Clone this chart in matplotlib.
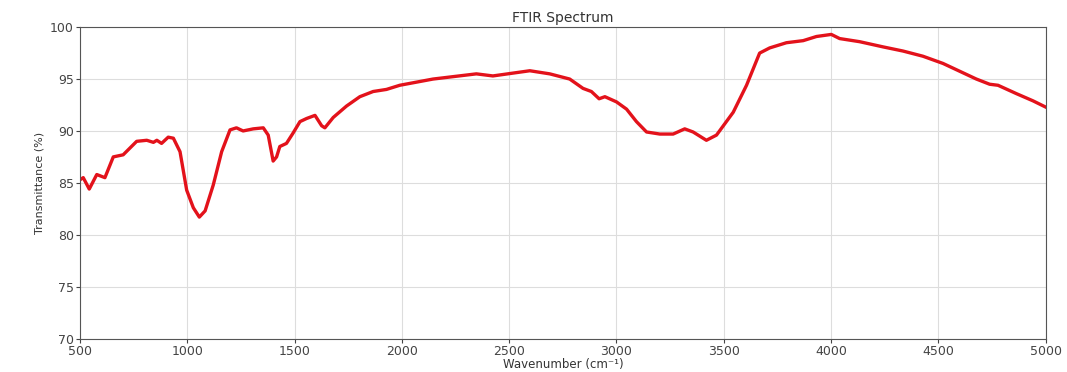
import matplotlib.pyplot as plt

# wavenumber (cm-1) and transmittance (%)
wavenumber = [500, 515, 543, 578, 616, 655, 701, 764, 811, 842, 858, 880, 911, 935,
              966, 997, 1028, 1056, 1083, 1121, 1160, 1199, 1229, 1260, 1307, 1354,
              1377, 1400, 1416, 1431, 1462, 1493, 1525, 1556, 1595, 1626, 1641, 1680,
              1742, 1804, 1866, 1928, 1990, 2145, 2347, 2424, 2596, 2689, 2782, 2844,
              2883, 2919, 2946, 3000, 3047, 3093, 3140, 3202, 3264, 3318, 3357, 3419,
              3466, 3544, 3606, 3667, 3714, 3792, 3870, 3932, 4001, 4040, 4133, 4242,
              4335, 4428, 4522, 4584, 4677, 4739, 4778, 4863, 4941, 5000]
transmittance = [85.3, 85.5, 84.4, 85.8, 85.5, 87.5, 87.7, 89.0, 89.1, 88.9, 89.1, 88.8,
                 89.4, 89.3, 88.0, 84.3, 82.6, 81.7, 82.3, 84.8, 88.0, 90.1, 90.3, 90.0,
                 90.2, 90.3, 89.6, 87.1, 87.5, 88.5, 88.8, 89.8, 90.9, 91.2, 91.5, 90.5,
                 90.3, 91.3, 92.4, 93.3, 93.8, 94.0, 94.4, 95.0, 95.5, 95.3, 95.8, 95.5,
                 95.0, 94.1, 93.8, 93.1, 93.3, 92.8, 92.1, 90.9, 89.9, 89.7, 89.7, 90.2,
                 89.9, 89.1, 89.6, 91.8, 94.4, 97.5, 98.0, 98.5, 98.7, 99.1, 99.3, 98.9,
                 98.6, 98.1, 97.7, 97.2, 96.5, 95.9, 95.0, 94.5, 94.4, 93.6, 92.9, 92.3]

fig = plt.figure(figsize=(10.67, 3.72), dpi=100)
ax = fig.add_axes([0.075, 0.09, 0.905, 0.837])

ax.plot(wavenumber, transmittance, color='#e3121b', lw=2.4)

ax.set_xlim(500, 5000)
ax.set_ylim(70, 100)
ax.set_xticks(range(500, 5001, 500))
ax.set_yticks(range(70, 101, 5))
ax.tick_params(labelsize=9, colors='#444444', length=3, pad=1.5)
ax.grid(True, color='#dddddd', lw=0.8)
for s in ax.spines.values():
    s.set_color('#555555')

ax.set_title('FTIR Spectrum', fontsize=10, color='#333333', pad=4)
ax.set_xlabel('Wavenumber (cm⁻¹)', fontsize=8.5, color='#333333', labelpad=0)
ax.set_ylabel('Transmittance (%)', fontsize=8, color='#333333')

fig.savefig('out.png', dpi=100)
